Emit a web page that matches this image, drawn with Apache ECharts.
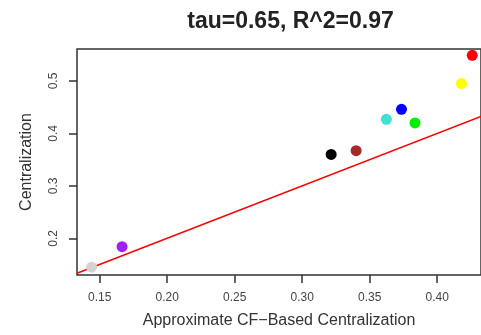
<!DOCTYPE html>
<html>
<head>
<meta charset="utf-8">
<script src="https://cdn.jsdelivr.net/npm/echarts@6/dist/echarts.min.js"></script>
<style>
html,body{margin:0;padding:0;background:#fff;}
#chart{width:481px;height:335px;}
</style>
</head>
<body>
<div id="chart"></div>
<script>
// Data
const xValues = [0.144, 0.1666, 0.3215, 0.340, 0.3624, 0.3736, 0.3836, 0.418, 0.426];
const yValues = [0.145, 0.184, 0.360, 0.367, 0.427, 0.446, 0.420, 0.495, 0.549];
const pointColors = ['#d3d3d3', '#a020f0', '#000000', '#a52a2a', '#40e0d0', '#0000ff', '#00ee00', '#ffff00', '#ff0000'];
const xTicks = [0.15, 0.20, 0.25, 0.30, 0.35, 0.40];
const yTicks = [0.2, 0.3, 0.4, 0.5];
const xRange = [0.1332, 0.4325];
const yRange = [0.130, 0.561];
const titleText = 'tau=0.65, R^2=0.97';
const xName = 'Approximate CF\u2212Based Centralization';
const yName = 'Centralization';

const points = xValues.map((x, i) => ({ value: [x, yValues[i]], itemStyle: { color: pointColors[i], opacity: 1 } }));
const identity = [[xRange[0], xRange[0]], [xRange[1], xRange[1]]];

const chart = echarts.init(document.getElementById('chart'), null, { renderer: 'canvas' });
const font = 'Liberation Sans, Arial, Helvetica, sans-serif';
chart.setOption({
  animation: false,
  backgroundColor: '#fff',
  title: {
    text: titleText,
    left: 285.5, top: 5, textAlign: 'center',
    textStyle: { fontFamily: font, fontSize: 23, fontWeight: 'bold', color: '#222' }
  },
  grid: {
    left: 77, top: 49, width: 410, height: 226,
    show: true, borderColor: '#333', borderWidth: 1.5, backgroundColor: 'transparent'
  },
  xAxis: {
    type: 'value', min: xRange[0], max: xRange[1],
    name: xName, nameLocation: 'middle', nameGap: 38,
    nameTextStyle: { fontFamily: font, fontSize: 16, color: '#333' },
    axisLine: { show: false },
    splitLine: { show: false },
    axisTick: { show: true, inside: false, length: 8, customValues: xTicks, lineStyle: { color: '#333', width: 1.5 } },
    axisLabel: { customValues: xTicks, margin: 17, fontFamily: font, fontSize: 12, color: '#444',
      formatter: v => v.toFixed(2) }
  },
  yAxis: {
    type: 'value', min: yRange[0], max: yRange[1],
    name: yName, nameLocation: 'middle', nameGap: 42,
    nameTextStyle: { fontFamily: font, fontSize: 16, color: '#333' },
    axisLine: { show: false },
    splitLine: { show: false },
    axisTick: { show: true, inside: false, length: 8, customValues: yTicks, lineStyle: { color: '#333', width: 1.5 } },
    axisLabel: { customValues: yTicks, margin: 17, rotate: 90, fontFamily: font, fontSize: 12, color: '#444',
      formatter: v => v.toFixed(1) }
  },
  series: [
    {
      type: 'line', data: identity, showSymbol: false, symbol: 'none', clip: true,
      lineStyle: { color: '#ff0000', width: 1.5 }, z: 2
    },
    {
      type: 'scatter', data: points, symbolSize: 11, clip: false, z: 3,
      itemStyle: { opacity: 1 }
    }
  ]
});
</script>
</body>
</html>
